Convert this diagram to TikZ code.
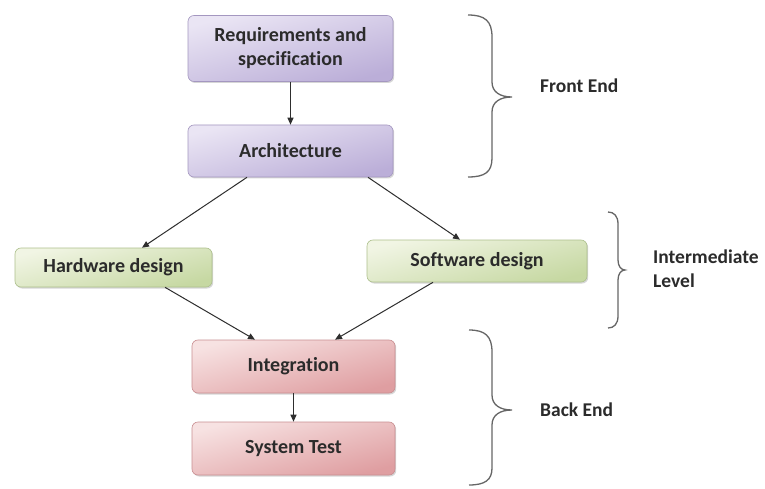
\documentclass[tikz,border=0pt]{standalone}
\usepackage{fontspec}
\setmainfont{Carlito}[BoldFont={Carlito Bold}, Ligatures=NoCommon]
\usetikzlibrary{shadows,arrows.meta}
\definecolor{txt}{HTML}{2B2B2B}
\definecolor{purA}{HTML}{EAE5F4}
\definecolor{purB}{HTML}{BBAED8}
\definecolor{purD}{HTML}{A497C0}
\definecolor{grnA}{HTML}{F1F5E4}
\definecolor{grnB}{HTML}{C6D8A2}
\definecolor{grnD}{HTML}{ADC08C}
\definecolor{pnkA}{HTML}{F7E2E2}
\definecolor{pnkB}{HTML}{DF9EA1}
\definecolor{pnkD}{HTML}{C98E91}
\definecolor{lnc}{HTML}{2E2E2E}
\definecolor{brc}{HTML}{666666}
\tikzset{
  box/.style={rounded corners=6pt, inner sep=0pt, align=center, text=txt,
    font=\fontsize{20}{24}\selectfont\bfseries,
    drop shadow={shadow xshift=1.2pt, shadow yshift=-1.5pt, fill=gray!45, opacity=0.7}},
  purbox/.style={box, draw=purD, line width=0.6pt, top color=purA, bottom color=purB, shading angle=15},
  grnbox/.style={box, draw=grnD, line width=0.6pt, top color=grnA, bottom color=grnB, shading angle=15},
  pnkbox/.style={box, draw=pnkD, line width=0.6pt, top color=pnkA, bottom color=pnkB, shading angle=15},
  conn/.style={draw=lnc, line width=1pt, -{Triangle[length=7pt,width=6pt]}},
  bracestyle/.style={draw=brc, line width=1.3pt},
  lbl/.style={text=txt, font=\fontsize{19.5}{24}\selectfont\bfseries, anchor=west, align=left, inner sep=0pt}
}
\begin{document}
\begin{tikzpicture}[x=1pt,y=-1pt]
\useasboundingbox[fill=white] (0,0) rectangle (765,489);
% boxes
\node[purbox, minimum width=205pt, minimum height=66pt] (req) at (290.5,48.5) {Requirements and\\specification};
\node[purbox, minimum width=205pt, minimum height=52pt] (arch) at (290.5,151) {Architecture};
\node[grnbox, minimum width=197pt, minimum height=39pt] (hw) at (113.5,267.5) {Hardware design};
\node[grnbox, minimum width=220pt, minimum height=42pt] (sw) at (477,261) {Software design};
\node[pnkbox, minimum width=203pt, minimum height=53pt] (int) at (293.5,366.5) {Integration};
\node[pnkbox, minimum width=203pt, minimum height=53pt] (sys) at (293.5,448.5) {System Test};
% connectors
\draw[conn] (req.south) -- (arch.north);
\draw[conn] ([xshift=-43.5pt]arch.south) -- ([xshift=28.5pt]hw.north);
\draw[conn] ([xshift=77.5pt]arch.south) -- ([xshift=-17pt]sw.north);
\draw[conn] ([xshift=51.5pt]hw.south) -- ([xshift=-38.5pt]int.north);
\draw[conn] ([xshift=-44pt]sw.south) -- ([xshift=41.5pt]int.north);
\draw[conn] (int.south) -- (sys.north);
% braces
\draw[bracestyle] (468,15) .. controls (485,15) and (492,21) .. (492,37)
  -- (492,82) .. controls (492,92) and (500,97) .. (512,97)
  .. controls (500,97) and (492,102) .. (492,112)
  -- (492,158) .. controls (492,172) and (485,177) .. (468,177);
\draw[bracestyle] (608,212) .. controls (614,212) and (618,216) .. (618,224)
  -- (618,260) .. controls (618,266) and (621,270) .. (625,270)
  .. controls (621,270) and (618,274) .. (618,280)
  -- (618,316) .. controls (618,324) and (614,328) .. (608,328);
\draw[bracestyle] (469,330) .. controls (485,330) and (492,336) .. (492,352)
  -- (492,395) .. controls (492,405) and (500,410) .. (512,410)
  .. controls (500,410) and (492,415) .. (492,425)
  -- (492,468) .. controls (492,480) and (485,485) .. (469,485);
% labels
\node[lbl] (fe) at (540,86) {Front End};
\node[lbl] (il) at (653,269) {Intermediate\\Level};
\node[lbl] (be) at (540,410) {Back End};
\end{tikzpicture}
\end{document}
